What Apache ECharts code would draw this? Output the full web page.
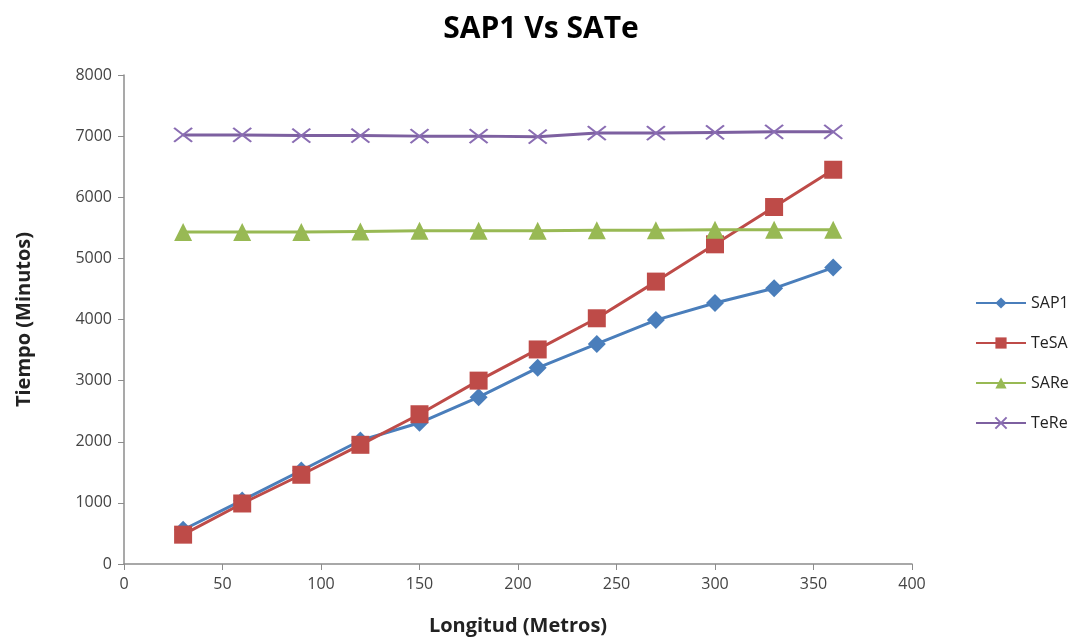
<!DOCTYPE html>
<html>
<head>
<meta charset="utf-8">
<script src="https://cdn.jsdelivr.net/npm/echarts@6/dist/echarts.min.js"></script>
<style>html,body{margin:0;padding:0;background:#fff}#c{width:1082px;height:641px}</style>
</head>
<body>
<div id="c"></div>
<script>
const longitud = [30, 60, 90, 120, 150, 180, 210, 240, 270, 300, 330, 360];
const sap1 = [560, 1040, 1530, 2020, 2310, 2730, 3210, 3600, 3990, 4270, 4510, 4850];
const tesa = [480, 990, 1460, 1950, 2450, 3000, 3510, 4020, 4620, 5230, 5840, 6450];
const sare = [5430, 5430, 5430, 5440, 5450, 5450, 5450, 5460, 5460, 5470, 5470, 5470];
const tere = [7020, 7020, 7010, 7010, 7000, 7000, 6990, 7050, 7050, 7060, 7070, 7070];
const xTicks = [0, 50, 100, 150, 200, 250, 300, 350, 400];
const yTicks = [0, 1000, 2000, 3000, 4000, 5000, 6000, 7000, 8000];

function pairs(ys){ return longitud.map((x,i)=>[x, ys[i]]); }
const font = '"Open Sans", "Liberation Sans", sans-serif';
const chart = echarts.init(document.getElementById('c'));
function mk(name, data, color, symbol, size, extra){
  return Object.assign({
    name, type:'line', data: pairs(data), symbol, symbolSize: size,
    lineStyle:{color, width:3}, itemStyle:{color}, emphasis:{disabled:true}
  }, extra||{});
}
chart.setOption({
  animation:false,
  title:{text:'SAP1 Vs SATe', left:'center', top:9,
    textStyle:{fontFamily:font, fontSize:30, fontWeight:'bold', color:'#000'}},
  grid:{left:124, right:170, top:75, bottom:76},
  legend:{orient:'vertical', left:970, top:290, itemGap:24, itemWidth:50, itemHeight:14,
    textStyle:{fontFamily:font, fontSize:16, color:'#222'},
    data:['SAP1','TeSA','SARe','TeRe']},
  xAxis:{type:'value', min:xTicks[0], max:xTicks[xTicks.length-1], interval:50,
    name:'Longitud (Metros)', nameLocation:'middle', nameGap:52,
    nameTextStyle:{fontFamily:font, fontSize:20, fontWeight:'bold', color:'#222'},
    axisLine:{lineStyle:{color:'#8c8c8c', width:1.5}},
    axisTick:{show:true, length:6, lineStyle:{color:'#8c8c8c'}},
    axisLabel:{fontFamily:font, fontSize:16, color:'#444', margin:12},
    splitLine:{show:false}},
  yAxis:{type:'value', min:yTicks[0], max:yTicks[yTicks.length-1], interval:1000,
    name:'Tiempo (Minutos)', nameLocation:'middle', nameGap:90, nameRotate:90,
    nameTextStyle:{fontFamily:font, fontSize:20, fontWeight:'bold', color:'#222'},
    axisLine:{show:true, lineStyle:{color:'#8c8c8c', width:1.5}},
    axisTick:{show:true, length:6, lineStyle:{color:'#8c8c8c'}},
    axisLabel:{fontFamily:font, fontSize:16, color:'#444', margin:12, formatter:v=>String(v)},
    splitLine:{show:false}},
  series:[
    mk('SAP1', sap1, '#4a7ebb', 'diamond', 18),
    mk('TeSA', tesa, '#be4b48', 'rect', 18),
    mk('SARe', sare, '#98b954', 'triangle', 18),
    mk('TeRe', tere, '#7d60a0', 'path://M0,0L10,8M10,0L0,8', [18,14],
      {itemStyle:{color:'#7d60a0', borderColor:'#8a6db3', borderWidth:2}})
  ]
});
</script>
</body>
</html>
